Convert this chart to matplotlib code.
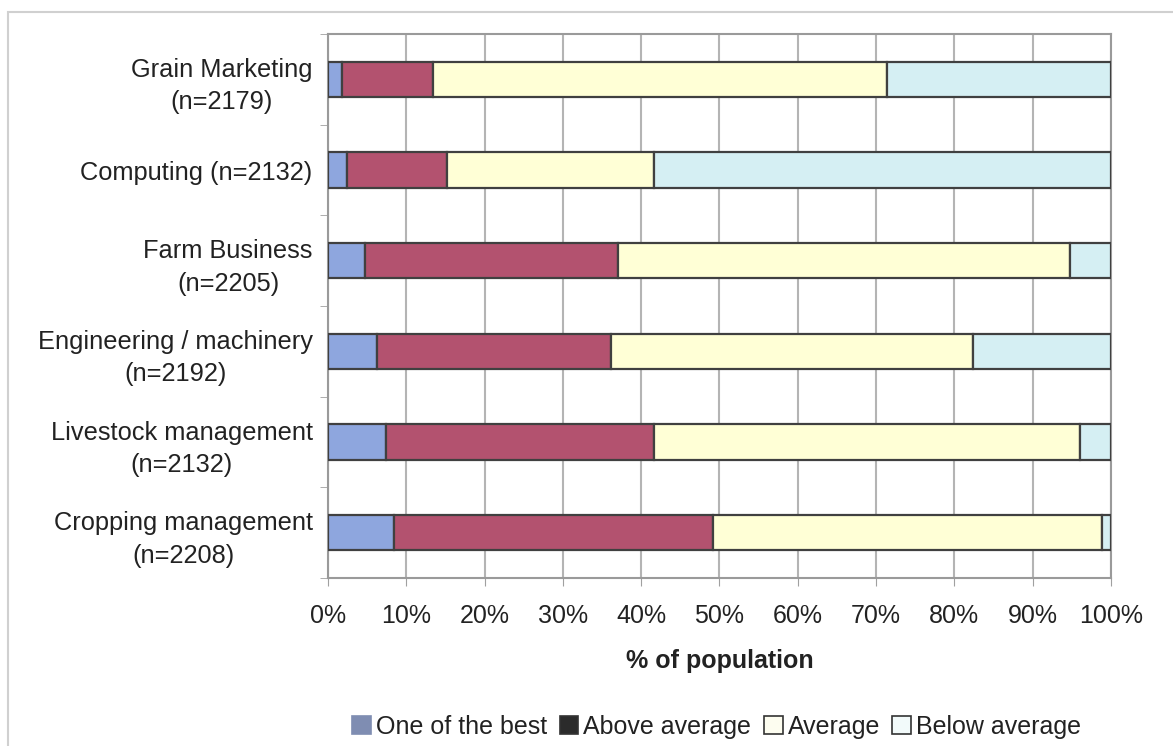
import numpy as np
import matplotlib.pyplot as plt
from matplotlib.patches import Patch, Rectangle
from matplotlib.ticker import FixedLocator, PercentFormatter

# --- data (% of population, rows top to bottom) ---
categories = [
    "Grain Marketing\n(n=2179)",
    "Computing (n=2132)",
    "Farm Business\n(n=2205)",
    "Engineering / machinery\n(n=2192)",
    "Livestock management\n(n=2132)",
    "Cropping management\n(n=2208)",
]
one_of_the_best = [1.8, 2.4, 4.7, 6.3, 7.4, 8.4]
above_average = [11.6, 12.8, 32.4, 29.8, 34.2, 40.8]
average = [58.0, 26.5, 57.7, 46.3, 54.4, 49.7]
below_average = [28.6, 58.3, 5.2, 17.6, 4.0, 1.1]

series_names = ["One of the best", "Above average", "Average", "Below average"]
bar_colors = ["#8ea6de", "#b3526f", "#ffffd6", "#d5eff3"]
# legend swatches as printed
legend_faces = ["#7f8db2", "#2b2b2b", "#fdfdf0", "#f2fafa"]


def make_chart():
    plt.rcParams['font.family'] = ['Liberation Sans', 'DejaVu Sans']
    fig = plt.figure(figsize=(11.73, 7.46), dpi=100)
    ax = fig.add_axes([0.2796, 0.2252, 0.9471 - 0.2796, 0.9544 - 0.2252])

    # light outer frame around the chart area
    fig.patches.append(Rectangle((8 / 1173, -0.05), 1.1, 1 - 12 / 746 + 0.05,
                                 transform=fig.transFigure, fill=False,
                                 edgecolor="#d0d0d0", linewidth=1.5, zorder=0))

    y = np.arange(len(categories))
    left = np.zeros(len(categories))
    values = [one_of_the_best, above_average, average, below_average]
    for vals, name, col in zip(values, series_names, bar_colors):
        vals = np.array(vals)
        ax.barh(y, vals, left=left, height=0.39, color=col,
                edgecolor="#404040", linewidth=1.6, label=name, zorder=3)
        left += vals

    ax.set_ylim(len(categories) - 0.5, -0.5)
    ax.set_xlim(0, 100)

    ax.set_yticks(y)
    ax.set_yticklabels(categories, fontsize=18.3, color="#222222")
    for lbl in ax.get_yticklabels():
        lbl.set_multialignment("center")
        lbl.set_linespacing(1.45)
    ax.tick_params(axis="y", length=0, pad=11)
    ax.yaxis.set_minor_locator(FixedLocator(np.arange(-0.5, len(categories), 1)))
    ax.tick_params(axis="y", which="minor", length=6, color="#a0a0a0", direction="out")

    ax.set_xticks(np.arange(0, 101, 10))
    ax.xaxis.set_major_formatter(PercentFormatter(decimals=0))
    ax.tick_params(axis="x", length=6, color="#a0a0a0", labelsize=18,
                   labelcolor="#222222", pad=13)
    ax.set_xlabel("% of population", fontsize=18, fontweight="bold",
                  color="#222222", labelpad=15)

    ax.grid(axis="x", color="#b4b4b4", linewidth=1.5, zorder=0)
    ax.set_axisbelow(True)
    for side in ["top", "right", "left", "bottom"]:
        ax.spines[side].set_color("#9a9a9a")
        ax.spines[side].set_linewidth(1.5)

    handles = [Patch(facecolor=f, edgecolor="#333333" if i > 0 else f, linewidth=1.2)
               for i, f in enumerate(legend_faces)]
    fig.legend(handles, series_names, loc="center", bbox_to_anchor=(0.611, 0.026),
               ncol=4, frameon=False, fontsize=18, handlelength=0.75,
               handleheight=0.75, handletextpad=0.2, columnspacing=0.5,
               labelcolor="#222222")

    fig.savefig("out.png", dpi=100, facecolor="white")


if __name__ == '__main__':
    make_chart()
